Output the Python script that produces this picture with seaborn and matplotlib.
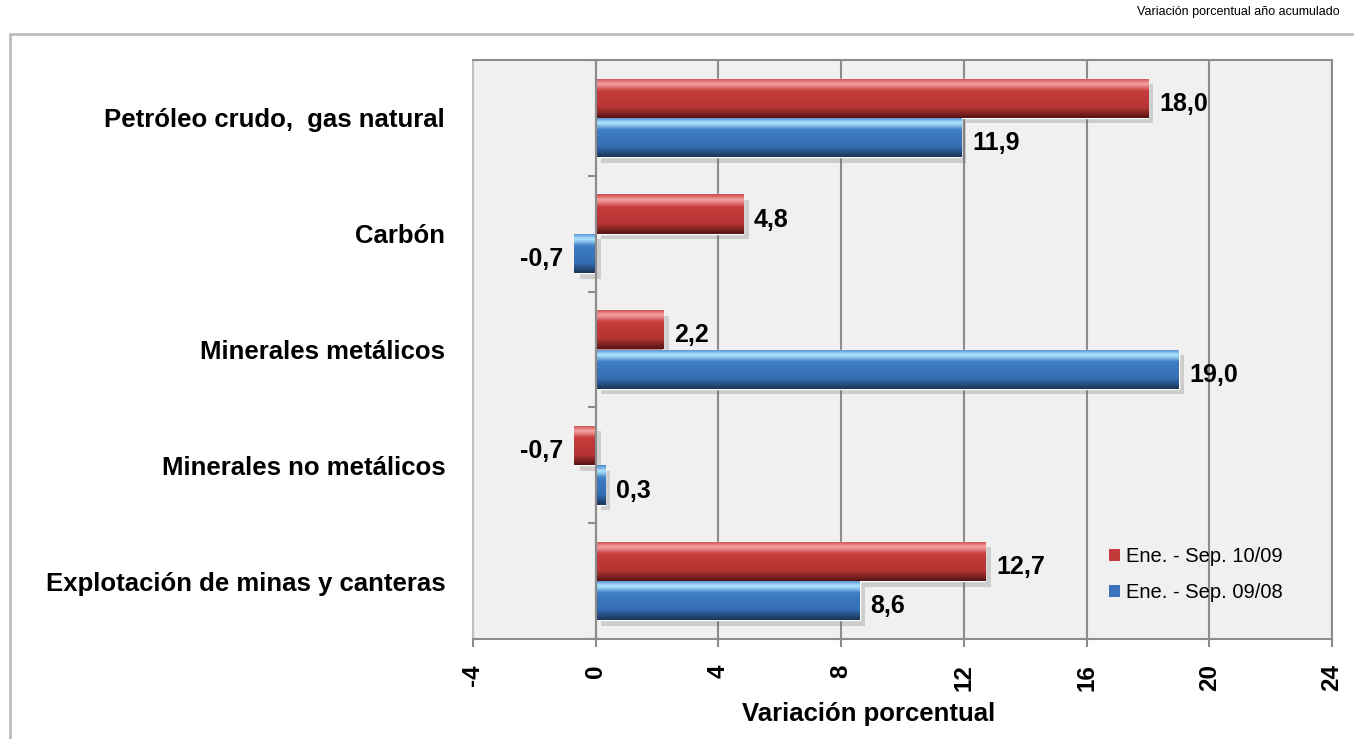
import numpy as np
import pandas as pd
import matplotlib
matplotlib.use("Agg")
import matplotlib.pyplot as plt
import matplotlib.patheffects as pe
from matplotlib.colors import LinearSegmentedColormap
from matplotlib.lines import Line2D
import seaborn as sns

# Data
categorias = ["Petróleo crudo,  gas natural", "Carbón", "Minerales metálicos",
              "Minerales no metálicos", "Explotación de minas y canteras"]
serie_10_09 = [18.0, 4.8, 2.2, -0.7, 12.7]
serie_09_08 = [11.9, -0.7, 19.0, 0.3, 8.6]
series = ["Ene. - Sep. 10/09", "Ene. - Sep. 09/08"]
x_ticks = [-4, 0, 4, 8, 12, 16, 20, 24]

df = pd.DataFrame({
    "categoria": categorias * 2,
    "valor": serie_10_09 + serie_09_08,
    "serie": [series[0]] * len(categorias) + [series[1]] * len(categorias),
})

sns.set_style("white")
plt.rcParams["font.family"] = ["Liberation Sans", "DejaVu Sans"]
plt.rcParams["text.color"] = "black"
plt.rcParams["axes.labelcolor"] = "black"
plt.rcParams["xtick.labelcolor"] = "black"
plt.rcParams["ytick.labelcolor"] = "black"

colores = {series[0]: "#c23b3b", series[1]: "#3b74bb"}
gradientes = {
    series[0]: [(0.0, "#cf4a4a"), (0.14, "#f5a3a3"), (0.32, "#c63c3c"),
                (0.75, "#b53434"), (1.0, "#561414")],
    series[1]: [(0.0, "#4a88cc"), (0.14, "#b0e8ff"), (0.32, "#3f7dc4"),
                (0.75, "#346db2"), (1.0, "#1a3457")],
}

fig = plt.figure(figsize=(13.54, 7.39), dpi=100)
ax = fig.add_axes([473 / 1354, 1 - 639 / 739, (1332 - 473) / 1354, (639 - 60) / 739])
ax.set_facecolor("#f0f0f0")

sns.barplot(data=df, y="categoria", x="valor", hue="serie", orient="h",
            palette=colores, hue_order=series, order=categorias,
            width=0.68, ax=ax, legend=False, zorder=3)

# bevel-like gradient inside every bar + soft shadow
for cont, s in zip(ax.containers, series):
    cmap = LinearSegmentedColormap.from_list(s, gradientes[s])
    grad = cmap(np.linspace(0, 1, 64))[:, None, :3]
    for bar in cont:
        bar.set_path_effects([pe.SimplePatchShadow(offset=(4, -4), shadow_rgbFace="#666666", alpha=0.25),
                              pe.Normal()])
        x0, y0 = bar.get_x(), bar.get_y()
        w, h = bar.get_width(), bar.get_height()
        im = ax.imshow(grad, extent=(min(x0, x0 + w), max(x0, x0 + w), y0 + h, y0),
                       aspect="auto", origin="upper", zorder=4, interpolation="bilinear")
        im.set_clip_path(bar)

ax.set_xlim(-4, 24)
ax.set_ylim(4.5, -0.5)

# value labels (slightly below bar centre, like the original)
for cont, vals in zip(ax.containers, [serie_10_09, serie_09_08]):
    texts = ax.bar_label(cont, labels=[f"{v:.1f}".replace(".", ",") for v in vals],
                         padding=8, fontsize=18, fontweight="bold", zorder=6, color="black")
    for t in texts:
        t.xyann = (t.xyann[0], -4)

# grid and axes
ax.set_xticks(x_ticks)
ax.set_xticklabels([str(t) for t in x_ticks], rotation=90, fontsize=17.5, fontweight="bold")
ax.xaxis.grid(True, color="#8c8c8c", linewidth=1.5, zorder=1)
ax.set_axisbelow(True)
ax.tick_params(axis="x", length=6, width=1.5, color="#8c8c8c", pad=12, bottom=True)
ax.tick_params(axis="y", length=0, pad=20, labelsize=18.5)
for lab in ax.get_yticklabels():
    lab.set_fontweight("bold")

for side in ["top", "right", "bottom"]:
    ax.spines[side].set_color("#8c8c8c")
    ax.spines[side].set_linewidth(1.5)
ax.spines["left"].set_color("#c0c0c0")
ax.spines["left"].set_linewidth(1.5)

# vertical axis at zero with separators between categories
ax.axvline(0, color="#8c8c8c", linewidth=1.5, zorder=5)
bordes = np.arange(len(categorias) + 1) - 0.5
ax.hlines(bordes, -0.25, 0, color="#8c8c8c", linewidth=1.5, zorder=5)

ax.set_ylabel("")
ax.set_xlabel("Variación porcentual", fontsize=18.5, fontweight="bold")
ax.xaxis.set_label_coords(0.46, -0.108)

# legend
handles = [plt.Rectangle((0, 0), 1, 1, facecolor=colores[s], edgecolor="none") for s in series]
ax.legend(handles, series, loc="upper left", bbox_to_anchor=(0.729, 0.176), frameon=False,
          borderpad=0, fontsize=14.5, handlelength=0.55, handleheight=0.55, handletextpad=0.3,
          labelspacing=0.85)

# outer frame and note
fig.add_artist(Line2D([10 / 1354, 1], [1 - 34 / 739, 1 - 34 / 739], transform=fig.transFigure,
                      color="#bdbdbd", linewidth=2))
fig.add_artist(Line2D([10 / 1354, 10 / 1354], [0, 1 - 34 / 739], transform=fig.transFigure,
                      color="#bdbdbd", linewidth=2))
fig.text(1340 / 1354, 1 - 6 / 739, "Variación porcentual año acumulado", ha="right", va="top",
         fontsize=9)

fig.savefig("out.png", dpi=100)
